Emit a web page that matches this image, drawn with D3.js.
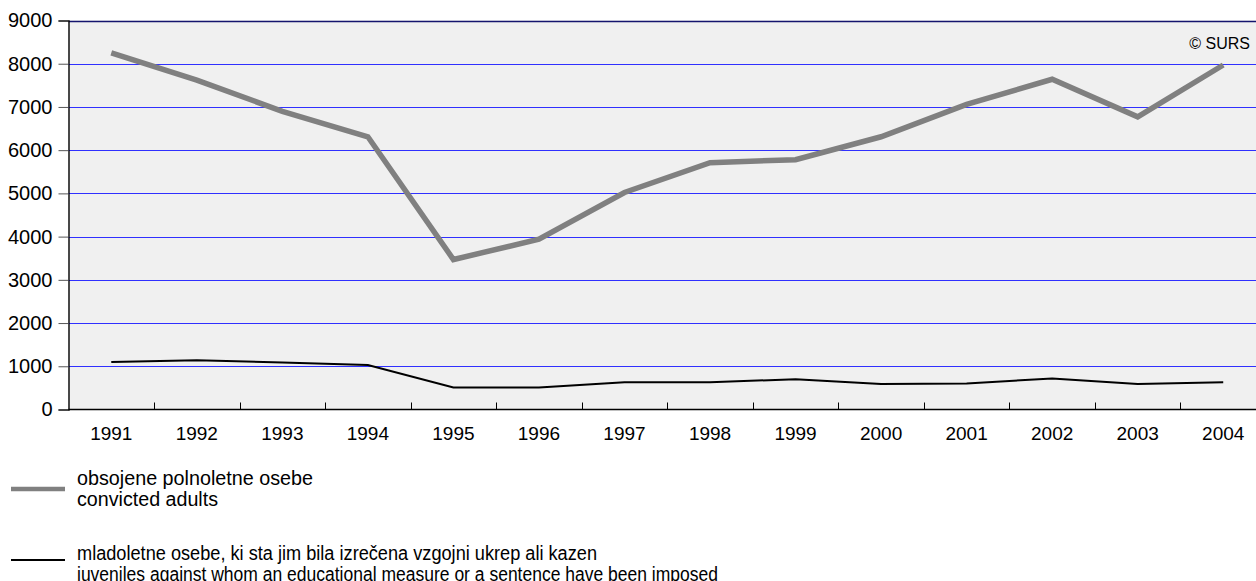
<!DOCTYPE html>
<html>
<head>
<meta charset="utf-8">
<script src="https://cdn.jsdelivr.net/npm/d3@7"></script>
<style>
  body { margin: 0; background: #fff; }
  svg text { font-family: Arial, "Liberation Sans", sans-serif; fill: #000; }
</style>
</head>
<body>
<svg id="chart" width="1256" height="581"></svg>
<script>
var years = ["1991", "1992", "1993", "1994", "1995", "1996", "1997", "1998", "1999", "2000", "2001", "2002", "2003", "2004"];
var adults = [8250, 7620, 6900, 6310, 3470, 3940, 5020, 5710, 5780, 6310, 7060, 7640, 6770, 7970];
var juveniles = [1100, 1140, 1090, 1030, 510, 510, 630, 630, 700, 590, 600, 720, 590, 630];
var yTicks = [0, 1000, 2000, 3000, 4000, 5000, 6000, 7000, 8000, 9000];

var svg = d3.select("#chart"),
    width = +svg.attr("width");

var mLeft = 68.5, mTop = 20.5, mBottom = 409.5, mRight = 1266;

// x: one band per year, points at band centre
var x = d3.scaleBand().domain(years).range([mLeft, mRight]);
var y = d3.scaleLinear().domain([0, 9000]).range([mBottom, mTop]);

// plot background
svg.append("rect")
    .attr("x", mLeft).attr("y", mTop)
    .attr("width", width - mLeft).attr("height", mBottom - mTop)
    .attr("fill", "#f0f0f0");

// grid lines
svg.append("g")
    .selectAll("line")
    .data(yTicks.filter(function(d) { return d > 0; }))
    .enter().append("line")
    .attr("x1", mLeft).attr("x2", width)
    .attr("y1", function(d) { return Math.round(y(d)) + 0.5; })
    .attr("y2", function(d) { return Math.round(y(d)) + 0.5; })
    .attr("stroke", function(d) { return d === 9000 ? "#14146e" : "#3030ff"; })
    .attr("stroke-width", function(d) { return d === 9000 ? 1.6 : 1.2; });

// y axis
var yAxis = svg.append("g")
    .attr("transform", "translate(" + mLeft + ",0)")
    .call(d3.axisLeft(y).tickValues(yTicks).tickSize(10).tickPadding(6).tickFormat(d3.format("d")));
yAxis.select(".domain").attr("stroke", "#000").attr("stroke-width", 1.4);
yAxis.selectAll(".tick line").attr("stroke", "#555");
yAxis.selectAll(".tick text").style("font-size", "20px").attr("font-family", null);

// x axis line and inner ticks between years
svg.append("line")
    .attr("x1", mLeft).attr("x2", width)
    .attr("y1", mBottom).attr("y2", mBottom)
    .attr("stroke", "#000").attr("stroke-width", 1.4);

svg.append("g")
    .selectAll("line")
    .data(years.slice(1))
    .enter().append("line")
    .attr("x1", function(d) { return Math.round(x(d)) + 0.5; })
    .attr("x2", function(d) { return Math.round(x(d)) + 0.5; })
    .attr("y1", mBottom).attr("y2", mBottom - 7)
    .attr("stroke", "#000").attr("stroke-width", 1);

svg.append("g")
    .selectAll("text")
    .data(years)
    .enter().append("text")
    .attr("x", function(d) { return x(d) + x.bandwidth() / 2; })
    .attr("y", 440)
    .attr("text-anchor", "middle")
    .style("font-size", "19px")
    .text(function(d) { return d; });

var line = d3.line()
    .x(function(d, i) { return x(years[i]) + x.bandwidth() / 2; })
    .y(function(d) { return y(d); });

svg.append("path")
    .datum(juveniles)
    .attr("d", line)
    .attr("fill", "none")
    .attr("stroke", "#000")
    .attr("stroke-width", 2);

svg.append("path")
    .datum(adults)
    .attr("d", line)
    .attr("fill", "none")
    .attr("stroke", "#808080")
    .attr("stroke-width", 5.5);

svg.append("text")
    .attr("x", 1250).attr("y", 49)
    .attr("text-anchor", "end")
    .style("font-size", "16px")
    .text("\u00a9 SURS");

// legend (reference font is narrower, so squeeze each line to its width)
var legend = [
  { color: "#808080", w: 4.5, y: 489, ty: 485,
    lines: ["obsojene polnoletne osebe", "convicted adults"], lens: [236, 141] },
  { color: "#000", w: 2, y: 560, ty: 560,
    lines: ["mladoletne osebe, ki sta jim bila izrečena vzgojni ukrep ali kazen",
            "juveniles against whom an educational measure or a sentence have been imposed"], lens: [520, 641] }
];

var lg = svg.append("g").selectAll("g")
    .data(legend)
    .enter().append("g");

lg.append("line")
    .attr("x1", 11).attr("x2", 65)
    .attr("y1", function(d) { return d.y; })
    .attr("y2", function(d) { return d.y; })
    .attr("stroke", function(d) { return d.color; })
    .attr("stroke-width", function(d) { return d.w; });

lg.each(function(d) {
  d3.select(this).selectAll("text")
      .data(d.lines)
      .enter().append("text")
      .attr("x", 77)
      .attr("y", function(t, i) { return d.ty + i * 20.5; })
      .attr("textLength", function(t, i) { return d.lens[i]; })
      .attr("lengthAdjust", "spacingAndGlyphs")
      .style("font-size", "20px")
      .text(function(t) { return t; });
});
</script>
</body>
</html>
